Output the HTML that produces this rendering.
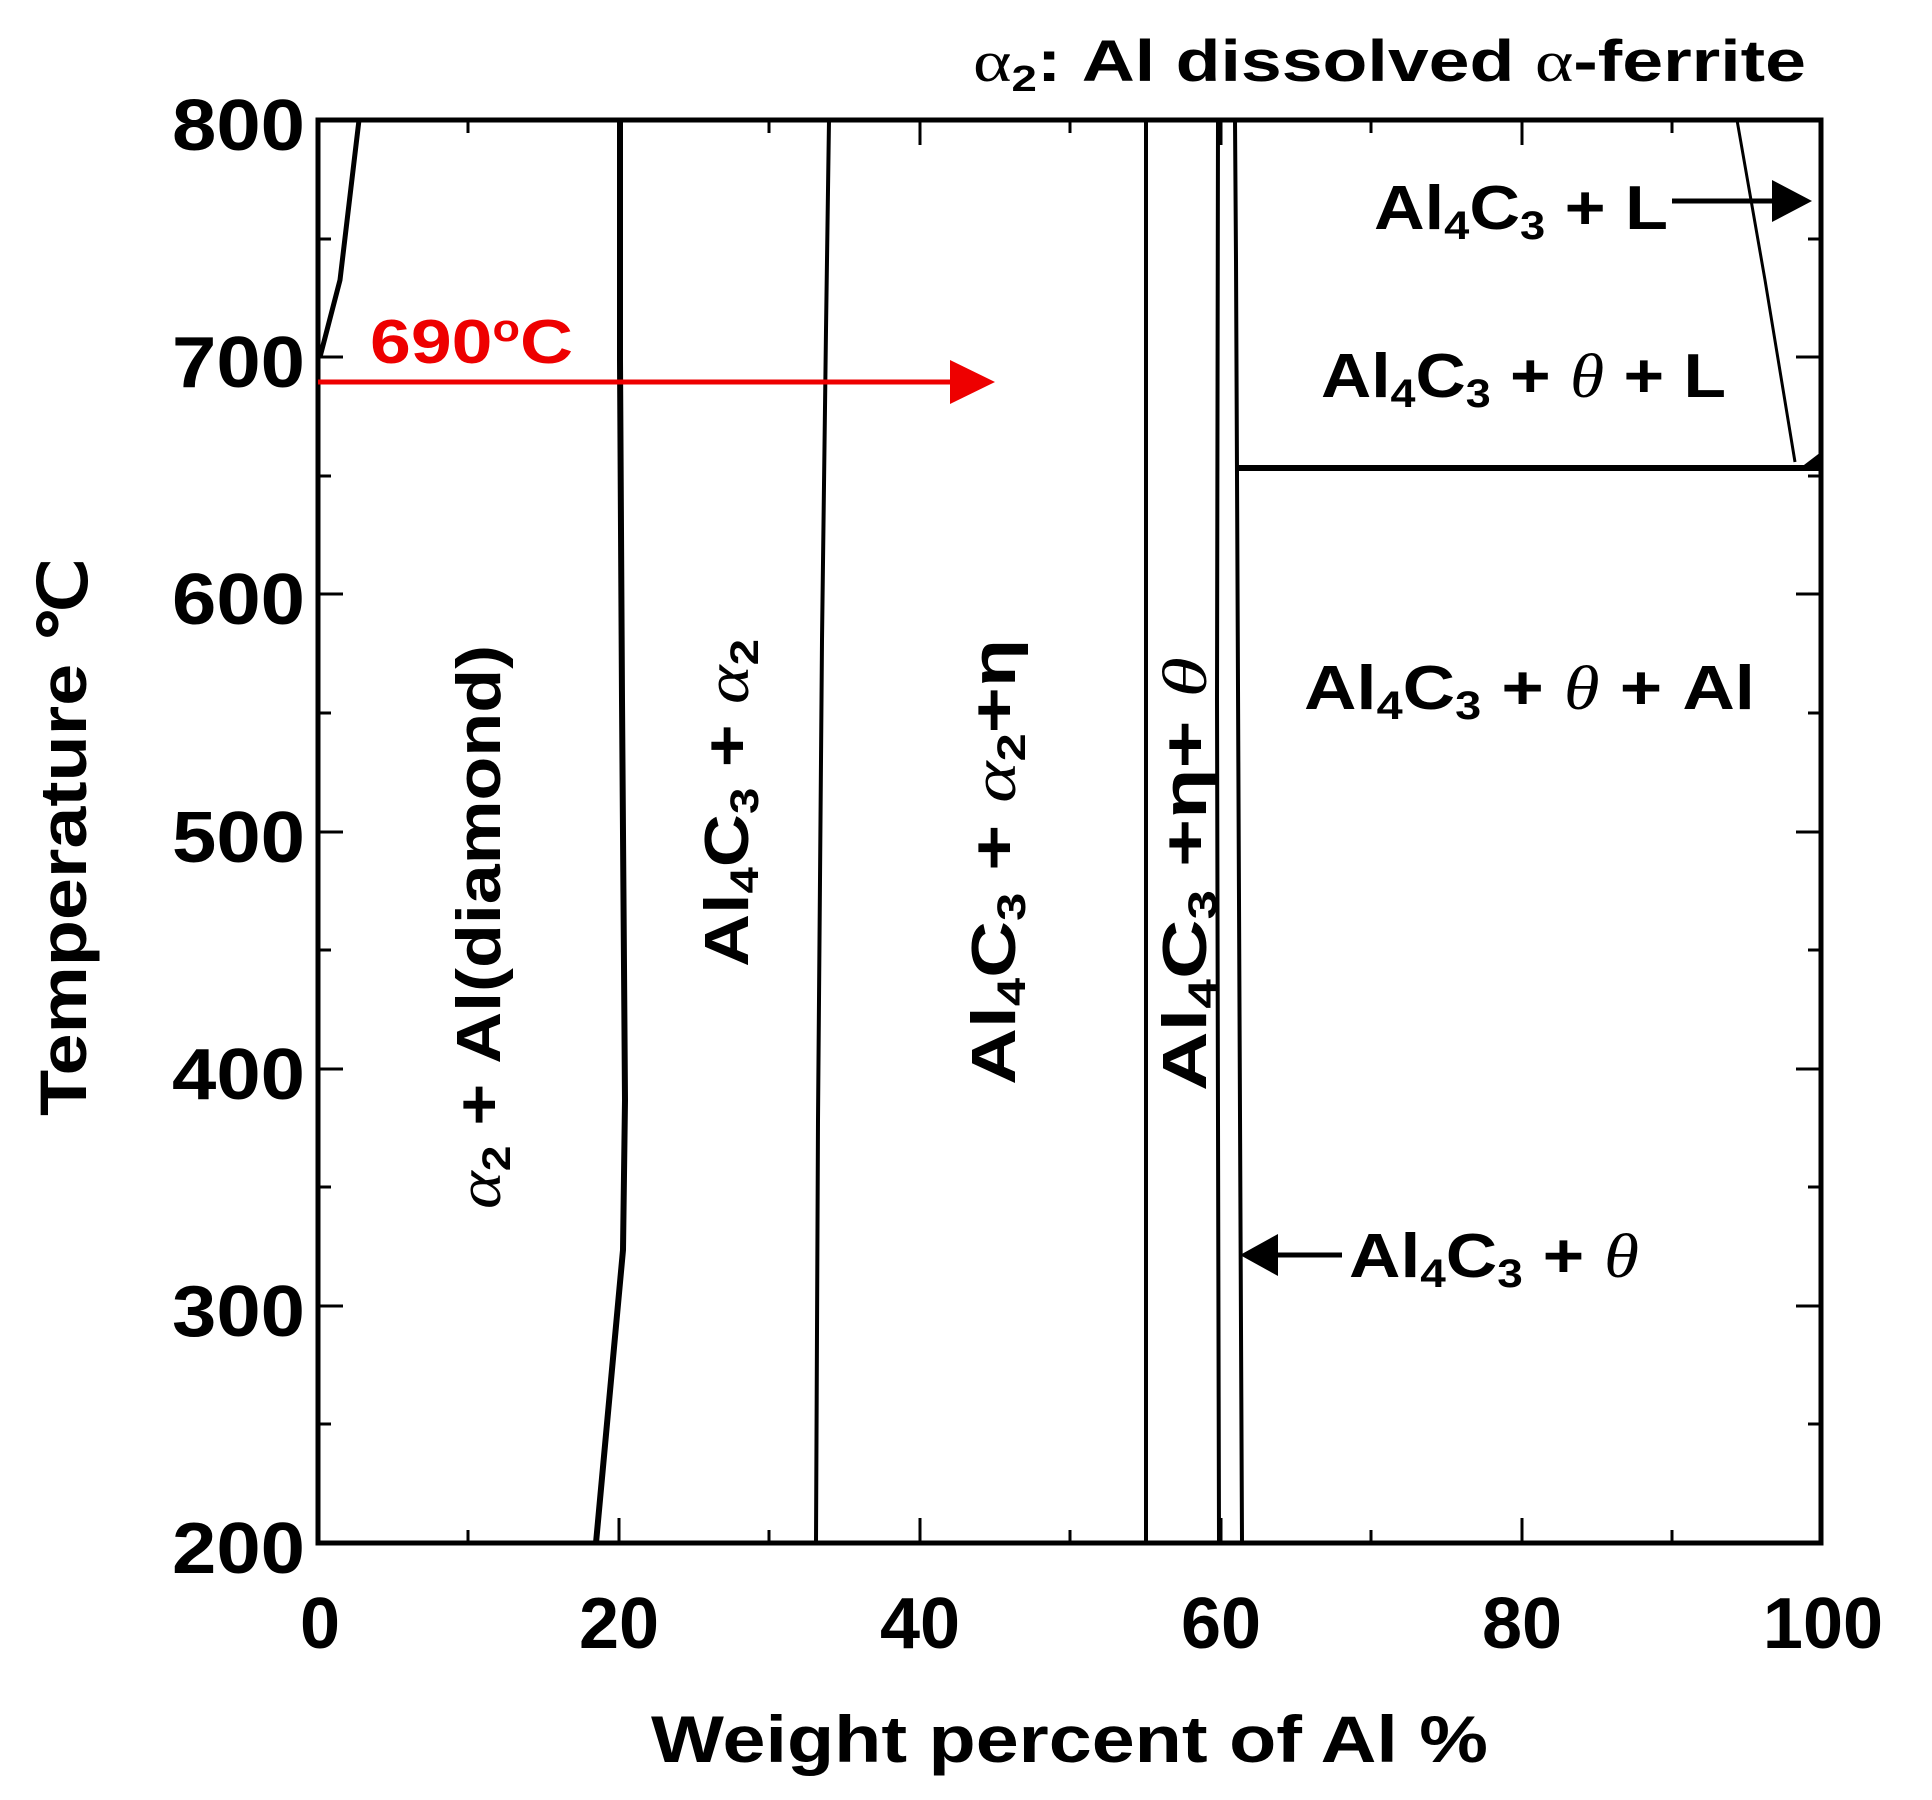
<!DOCTYPE html>
<html><head><meta charset="utf-8"><style>html,body{margin:0;padding:0;background:#fff}svg{display:block}</style></head>
<body>
<svg width="1932" height="1800" viewBox="0 0 1932 1800" xmlns="http://www.w3.org/2000/svg" font-family="Liberation Sans, Arial, sans-serif" font-weight="bold">
<rect width="1932" height="1800" fill="#fff"/>
<g stroke="#000" stroke-width="3">
<line x1="619" y1="1543" x2="619" y2="1518"/><line x1="920" y1="1543" x2="920" y2="1518"/><line x1="1221" y1="1543" x2="1221" y2="1518"/><line x1="1522" y1="1543" x2="1522" y2="1518"/>
<line x1="468" y1="1543" x2="468" y2="1530"/><line x1="769" y1="1543" x2="769" y2="1530"/><line x1="1070" y1="1543" x2="1070" y2="1530"/><line x1="1371" y1="1543" x2="1371" y2="1530"/><line x1="1672" y1="1543" x2="1672" y2="1530"/>
<line x1="619" y1="120" x2="619" y2="145"/><line x1="920" y1="120" x2="920" y2="145"/><line x1="1221" y1="120" x2="1221" y2="145"/><line x1="1522" y1="120" x2="1522" y2="145"/>
<line x1="468" y1="120" x2="468" y2="133"/><line x1="769" y1="120" x2="769" y2="133"/><line x1="1070" y1="120" x2="1070" y2="133"/><line x1="1371" y1="120" x2="1371" y2="133"/><line x1="1672" y1="120" x2="1672" y2="133"/>
<line x1="318" y1="357" x2="343" y2="357"/><line x1="318" y1="594" x2="343" y2="594"/><line x1="318" y1="832" x2="343" y2="832"/><line x1="318" y1="1069" x2="343" y2="1069"/><line x1="318" y1="1306" x2="343" y2="1306"/>
<line x1="318" y1="239" x2="331" y2="239"/><line x1="318" y1="476" x2="331" y2="476"/><line x1="318" y1="713" x2="331" y2="713"/><line x1="318" y1="950" x2="331" y2="950"/><line x1="318" y1="1187" x2="331" y2="1187"/><line x1="318" y1="1424" x2="331" y2="1424"/>
<line x1="1821" y1="357" x2="1796" y2="357"/><line x1="1821" y1="594" x2="1796" y2="594"/><line x1="1821" y1="832" x2="1796" y2="832"/><line x1="1821" y1="1069" x2="1796" y2="1069"/><line x1="1821" y1="1306" x2="1796" y2="1306"/>
<line x1="1821" y1="239" x2="1808" y2="239"/><line x1="1821" y1="476" x2="1808" y2="476"/><line x1="1821" y1="713" x2="1808" y2="713"/><line x1="1821" y1="950" x2="1808" y2="950"/><line x1="1821" y1="1187" x2="1808" y2="1187"/><line x1="1821" y1="1424" x2="1808" y2="1424"/>
</g>
<g stroke="#000" fill="none">
<path d="M320 357 L340 280 L359 120" stroke-width="5"/>
<path d="M620 120 L620 360 L622 700 L625 1100 L623 1250 L596 1543" stroke-width="6"/>
<path d="M829 120 L826 330 L822 640 L818 1120 L816 1543" stroke-width="4"/>
<line x1="1146" y1="120" x2="1146" y2="1543" stroke-width="4"/>
<path d="M1218 120 L1217 700 L1219 1543" stroke-width="4"/>
<path d="M1235 120 L1236 260 L1242 1543" stroke-width="4"/>
<line x1="1235" y1="468" x2="1821" y2="468" stroke-width="6"/>
<path d="M1737 120 L1765 280 L1795 462" stroke-width="3"/>
</g>
<polygon points="1800,468 1821,452 1821,468" fill="#000"/>
<rect x="318" y="120" width="1503" height="1423" fill="none" stroke="#000" stroke-width="5"/>
<line x1="318" y1="382" x2="960" y2="382" stroke="#e00" stroke-width="5"/>
<polygon points="995,382 950,360 950,404" fill="#e00"/>
<text x="370" y="363" font-size="62" fill="#e00" textLength="203" lengthAdjust="spacingAndGlyphs">690<tspan font-size="38" dy="-22">o</tspan><tspan dy="22">C</tspan></text>
<g font-size="72" text-anchor="end">
<text x="305" y="150" textLength="133" lengthAdjust="spacingAndGlyphs">800</text><text x="305" y="387" textLength="133" lengthAdjust="spacingAndGlyphs">700</text><text x="305" y="624" textLength="133" lengthAdjust="spacingAndGlyphs">600</text><text x="305" y="862" textLength="133" lengthAdjust="spacingAndGlyphs">500</text><text x="305" y="1099" textLength="133" lengthAdjust="spacingAndGlyphs">400</text><text x="305" y="1336" textLength="133" lengthAdjust="spacingAndGlyphs">300</text><text x="305" y="1573" textLength="133" lengthAdjust="spacingAndGlyphs">200</text>
</g>
<g font-size="72" text-anchor="middle">
<text x="320" y="1648">0</text><text x="619" y="1648">20</text><text x="920" y="1648">40</text><text x="1221" y="1648">60</text><text x="1522" y="1648">80</text><text x="1823" y="1648">100</text>
</g>
<text x="651" y="1762" font-size="66" textLength="837" lengthAdjust="spacingAndGlyphs">Weight percent of Al %</text>
<text transform="translate(86,837) rotate(-90)" text-anchor="middle" font-size="66" textLength="558" lengthAdjust="spacingAndGlyphs">Temperature ℃</text>
<text x="973" y="81" font-size="58" textLength="833" lengthAdjust="spacingAndGlyphs"><tspan font-family="Liberation Serif, serif" font-weight="normal">α</tspan><tspan font-size="36" dy="10">2</tspan><tspan dy="-10">: Al dissolved </tspan><tspan font-family="Liberation Serif, serif" font-weight="normal">α</tspan>-ferrite</text>
<text transform="translate(500,927) rotate(-90)" text-anchor="middle" font-size="62" textLength="564" lengthAdjust="spacingAndGlyphs"><tspan font-family="Liberation Serif, serif" font-style="italic" font-weight="normal">α</tspan><tspan font-size="40" dy="10">2</tspan><tspan dy="-10"> + Al(diamond)</tspan></text>
<text transform="translate(748,803) rotate(-90)" text-anchor="middle" font-size="62" textLength="328" lengthAdjust="spacingAndGlyphs">Al<tspan font-size="40" dy="10">4</tspan><tspan dy="-10">C</tspan><tspan font-size="40" dy="10">3</tspan><tspan dy="-10"> + </tspan><tspan font-family="Liberation Serif, serif" font-style="italic" font-weight="normal">α</tspan><tspan font-size="40" dy="10">2</tspan></text>
<text transform="translate(1015,862) rotate(-90)" text-anchor="middle" font-size="62" textLength="446" lengthAdjust="spacingAndGlyphs">Al<tspan font-size="40" dy="10">4</tspan><tspan dy="-10">C</tspan><tspan font-size="40" dy="10">3</tspan><tspan dy="-10"> + </tspan><tspan font-family="Liberation Serif, serif" font-style="italic" font-weight="normal">α</tspan><tspan font-size="40" dy="10">2</tspan><tspan dy="-10">+η</tspan></text>
<text transform="translate(1206,874) rotate(-90)" text-anchor="middle" font-size="62" textLength="434" lengthAdjust="spacingAndGlyphs">Al<tspan font-size="40" dy="10">4</tspan><tspan dy="-10">C</tspan><tspan font-size="40" dy="10">3</tspan><tspan dy="-10"> +η+ </tspan><tspan font-family="Liberation Serif, serif" font-style="italic" font-weight="normal">θ</tspan></text>
<text x="1374" y="229" font-size="62" textLength="294" lengthAdjust="spacingAndGlyphs">Al<tspan font-size="40" dy="10">4</tspan><tspan dy="-10">C</tspan><tspan font-size="40" dy="10">3</tspan><tspan dy="-10"> + L</tspan></text>
<line x1="1672" y1="201" x2="1780" y2="201" stroke="#000" stroke-width="5"/>
<polygon points="1812,201 1772,180 1772,222" fill="#000"/>
<text x="1321" y="397" font-size="62" textLength="405" lengthAdjust="spacingAndGlyphs">Al<tspan font-size="40" dy="10">4</tspan><tspan dy="-10">C</tspan><tspan font-size="40" dy="10">3</tspan><tspan dy="-10"> + </tspan><tspan font-family="Liberation Serif, serif" font-style="italic" font-weight="normal">θ</tspan> + L</text>
<text x="1304" y="709" font-size="62" textLength="451" lengthAdjust="spacingAndGlyphs">Al<tspan font-size="40" dy="10">4</tspan><tspan dy="-10">C</tspan><tspan font-size="40" dy="10">3</tspan><tspan dy="-10"> + </tspan><tspan font-family="Liberation Serif, serif" font-style="italic" font-weight="normal">θ</tspan>  + Al</text>
<text x="1349" y="1277" font-size="62" textLength="290" lengthAdjust="spacingAndGlyphs">Al<tspan font-size="40" dy="10">4</tspan><tspan dy="-10">C</tspan><tspan font-size="40" dy="10">3</tspan><tspan dy="-10"> + </tspan><tspan font-family="Liberation Serif, serif" font-style="italic" font-weight="normal">θ</tspan></text>
<line x1="1270" y1="1255" x2="1342" y2="1255" stroke="#000" stroke-width="5"/>
<polygon points="1240,1255 1278,1234 1278,1276" fill="#000"/>
</svg>
</body></html>
